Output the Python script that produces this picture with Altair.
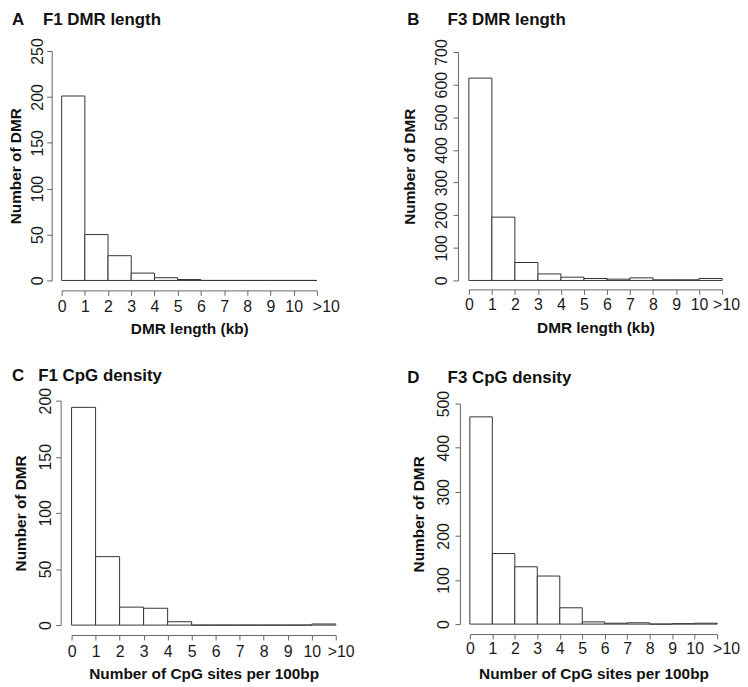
import altair as alt
import pandas as pd

# ---------------- data ----------------
bin_start = [0, 1, 2, 3, 4, 5, 6, 7, 8, 9, 10]
bin_end = [1, 2, 3, 4, 5, 6, 7, 8, 9, 10, 11]
x_ticks = [0, 1, 2, 3, 4, 5, 6, 7, 8, 9, 10, 11]
x_tick_labels = ["0", "1", "2", "3", "4", "5", "6", "7", "8", "9", "10", ">10"]

f1_length_counts = [201, 50, 27, 8, 3, 1, 0, 0, 0, 0, 0]
f3_length_counts = [620, 194, 55, 20, 10, 6, 4, 8, 2, 2, 6]
f1_cpg_counts = [194, 61, 16, 15, 3, 0, 0, 0, 0, 0, 1]
f3_cpg_counts = [470, 160, 130, 109, 37, 5, 2, 3, 0, 1, 2]

letters = ["A", "B", "C", "D"]
panel_titles = ["F1 DMR length", "F3 DMR length", "F1 CpG density", "F3 CpG density"]
x_titles = ["DMR length (kb)", "DMR length (kb)",
            "Number of CpG sites per 100bp", "Number of CpG sites per 100bp"]
y_title = "Number of DMR"
y_max = [250, 700, 200, 500]
y_step = [50, 100, 50, 100]
counts_all = [f1_length_counts, f3_length_counts, f1_cpg_counts, f3_cpg_counts]

# ---------------- layout (pixels) ----------------
layout = [
    dict(w=276, h=231, xr=[0, 257], yr=[231, 0], yoff=10, ylp=1, ytp=6.5,
         xoff=10, xlp=3, xtp=7, toff=9, dx=-50, sp=4, last=9),
    dict(w=255, h=231, xr=[0, 255], yr=[231, 1], yoff=11, ylp=3, ytp=17,
         xoff=9, xlp=2, xtp=8, toff=10, dx=-62, sp=6, last=4),
    dict(w=276, h=226, xr=[10, 276], yr=[226, 0], yoff=1, ylp=2, ytp=9,
         xoff=10, xlp=4, xtp=7, toff=2, dx=-50, sp=3, last=5),
    dict(w=255, h=226, xr=[1, 250], yr=[225, 3], yoff=9, ylp=3, ytp=10,
         xoff=9, xlp=2, xtp=10, toff=3, dx=-62, sp=6, last=9),
]

FONT = "Liberation Sans"
AXIS_COL = "#666666"
label_expr = "[" + ",".join("'" + s + "'" for s in x_tick_labels) + "][datum.value]"


def panel(i):
    L = layout[i]
    df = pd.DataFrame({"start": bin_start, "end": bin_end, "count": counts_all[i]})
    x_axis = alt.Axis(
        values=x_ticks, labelExpr=label_expr, title=x_titles[i],
        offset=L["xoff"], tickSize=5, labelPadding=L["xlp"], titlePadding=L["xtp"],
        labelFlush=False, labelOverlap=False, grid=False,
        labelOffset={"condition": {"test": "datum.value == 11", "value": L["last"]}, "value": 0},
    )
    y_axis = alt.Axis(
        values=list(range(0, y_max[i] + 1, y_step[i])), title=y_title,
        offset=L["yoff"], tickSize=5, labelPadding=L["ylp"], titlePadding=L["ytp"],
        labelAngle=270, labelAlign="center", labelBaseline="bottom",
        labelFlush=False, labelOverlap=False, grid=False,
    )
    return alt.Chart(df).mark_rect(fill="white", stroke="#333333", strokeWidth=1).encode(
        x=alt.X("start:Q", scale=alt.Scale(domain=[0, 11], range=L["xr"], nice=False, zero=False),
                axis=x_axis),
        x2="end:Q",
        y=alt.Y("count:Q", scale=alt.Scale(domain=[0, y_max[i]], range=L["yr"], nice=False),
                axis=y_axis),
        y2=alt.datum(0),
    ).properties(
        width=L["w"], height=L["h"],
        title=alt.TitleParams(
            text=letters[i] + "\u00a0" * L["sp"] + panel_titles[i],
            anchor="start", frame="group", dx=L["dx"], offset=L["toff"],
            font=FONT, fontSize=17, fontWeight="bold", color="#111111",
        ),
    )


chart = alt.concat(
    panel(0), panel(1), panel(2), panel(3),
    columns=2, spacing=alt.RowColnumber(row=121, column=134),
    bounds="flush", align="each",
).properties(padding=0).configure_axis(
    domainColor=AXIS_COL, tickColor=AXIS_COL, domainWidth=1, tickWidth=1,
    labelFont=FONT, labelFontSize=16, labelColor="#1a1a1a",
    titleFont=FONT, titleFontSize=15.5, titleFontWeight="bold", titleColor="#111111",
).configure_view(strokeWidth=0)

chart.save("out.html", embed_options={"renderer": "svg", "actions": False})
